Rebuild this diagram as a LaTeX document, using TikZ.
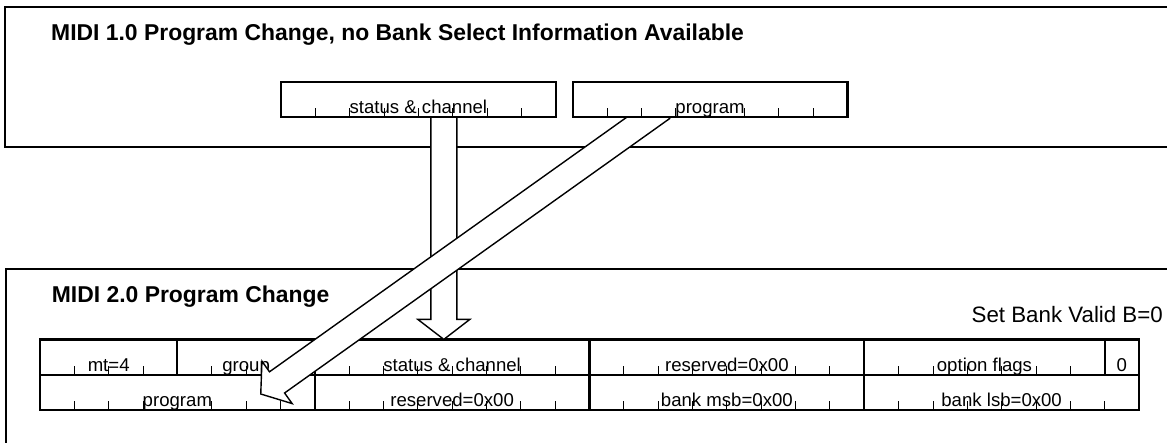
\documentclass[tikz,border=0pt]{standalone}
\usepackage{fontspec}
\setmainfont{Liberation Sans}
\usetikzlibrary{calc}
\pgfdeclarelayer{fg}
\pgfsetlayers{main,fg}
\def\bw{34.344pt}
\newcommand\bitcell[5]{%
  \node[cellbox, minimum width={#4*\bw}] (#1) at (#2,#3) {};%
  \pgfmathtruncatemacro\nticks{#4-1}%
  \ifnum\nticks>0
    \foreach \k in {1,...,\nticks}{\draw[tickline] ([xshift=\k*\bw]#1.south west) -- ++(0,-9);}%
  \fi
  \node[lbl] (#1-t) at ([yshift=3.3pt]#1.south) {#5};%
}
\newcommand\blockarrow[3]{%
  \coordinate (#1b) at ($(#3)!20pt!(#2)$);
  \filldraw[blk] ($(#2)!13pt!90:(#3)$) -- ($(#1b)!13pt!90:(#3)$) -- ($(#1b)!26pt!90:(#3)$) -- (#3)
    -- ($(#1b)!26pt!-90:(#3)$) -- ($(#1b)!13pt!-90:(#3)$) -- ($(#2)!13pt!-90:(#3)$) -- cycle;
}
\begin{document}
\begin{tikzpicture}[x=1pt,y=-1pt,
  frame/.style={draw, line width=1.8pt, inner sep=0pt, outer sep=0pt, anchor=north west},
  cellbox/.style={draw, fill=white, line width=2.2pt, minimum height=35.3pt, inner sep=0pt, outer sep=0pt, anchor=north west},
  tickline/.style={line width=0.9pt},
  lbl/.style={font=\fontsize{18.6}{20}\selectfont, inner sep=0pt, anchor=base},
  ttl/.style={font=\bfseries\fontsize{22.9}{26}\selectfont, inner sep=0pt, anchor=base west},
  note/.style={font=\fontsize{22.3}{24}\selectfont, inner sep=0pt, anchor=base east},
  blk/.style={fill=white, draw=black, line width=1.4pt, line join=miter}
]
\useasboundingbox (0,0) rectangle (1167,442);

% outer frames
\node[frame, minimum width=1300, minimum height=140] (box1) at (5,6.7) {};
\node[frame, minimum width=1300, minimum height=300] (box2) at (6,269.3) {};
\node[ttl] (t1) at (51,40.7) {MIDI 1.0 Program Change, no Bank Select Information Available};
\node[ttl] (t2) at (51.7,302.7) {MIDI 2.0 Program Change};
\node[note] (valid) at (1163,322.7) {Set Bank Valid B=0};

% MIDI 2.0 packet
\bitcell{mt}{40}{339.4}{4}{mt=4}
\bitcell{grp}{177.38}{339.4}{4}{group}
\bitcell{st2}{314.75}{339.4}{8}{status \& channel}
\bitcell{res1}{589.5}{339.4}{8}{reserved=0x00}
\bitcell{opt}{864.25}{339.4}{7}{option flags}
\bitcell{zero}{1104.66}{339.4}{1}{0}
\bitcell{prog2}{40}{374.7}{8}{program}
\bitcell{res2}{314.75}{374.7}{8}{reserved=0x00}
\bitcell{msb}{589.5}{374.7}{8}{bank msb=0x00}
\bitcell{lsb}{864.25}{374.7}{8}{bank lsb=0x00}

% MIDI 1.0 message (on top of the arrow tails)
\begin{pgfonlayer}{fg}
\bitcell{st1}{281}{81.7}{8}{status \& channel}
\bitcell{prog1}{572.7}{81.7}{8}{program}
\end{pgfonlayer}

% arrows
\coordinate (vS) at ([xshift=25.45pt,yshift=12pt]st1.south);
\coordinate (vT) at (vS |- st2.north);
\blockarrow{v}{vS}{vT}
\coordinate (dS) at ([xshift=-48pt,yshift=9pt]prog1.south);
\coordinate (dT) at ([xshift=-54pt,yshift=16pt]prog2.south east);
\blockarrow{d}{dS}{dT}
\end{tikzpicture}
\end{document}
